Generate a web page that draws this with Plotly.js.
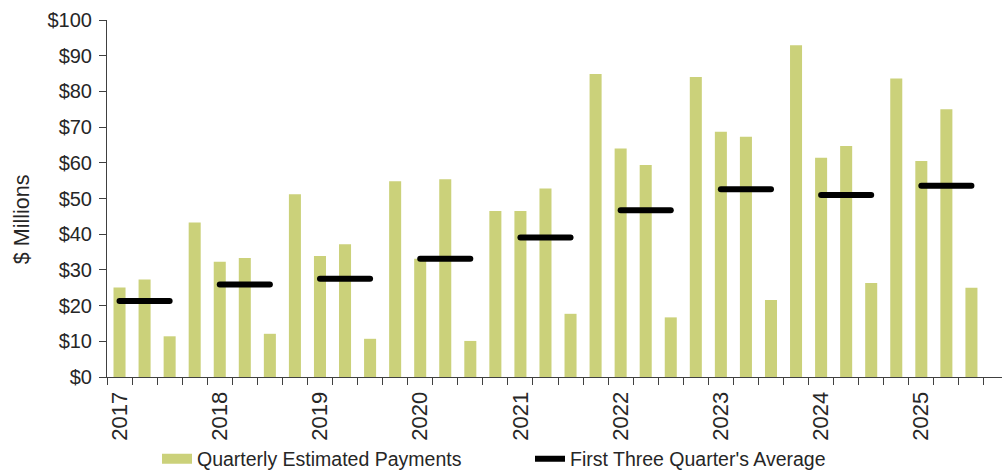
<!DOCTYPE html>
<html>
<head>
<meta charset="utf-8">
<script src="https://cdn.plot.ly/plotly-3.0.1.min.js"></script>
<style>
  html, body { margin: 0; padding: 0; background: #ffffff; }
  #chart { width: 1002px; height: 472px; }
  .scatterlayer .js-line { stroke-linecap: round; }
</style>
</head>
<body>
<div id="chart"></div>
<script>
// Quarter categories (first quarter of each year carries the year label)
const quarters = [
  '2017 Q1','2017 Q2','2017 Q3','2017 Q4',
  '2018 Q1','2018 Q2','2018 Q3','2018 Q4',
  '2019 Q1','2019 Q2','2019 Q3','2019 Q4',
  '2020 Q1','2020 Q2','2020 Q3','2020 Q4',
  '2021 Q1','2021 Q2','2021 Q3','2021 Q4',
  '2022 Q1','2022 Q2','2022 Q3','2022 Q4',
  '2023 Q1','2023 Q2','2023 Q3','2023 Q4',
  '2024 Q1','2024 Q2','2024 Q3','2024 Q4',
  '2025 Q1','2025 Q2','2025 Q3','2025 Q4'
];

// Quarterly estimated payments, $ millions
const payments = [
  25.1, 27.3, 11.4, 43.3,
  32.3, 33.3, 12.1, 51.2,
  33.9, 37.2, 10.7, 54.8,
  33.1, 55.4, 10.1, 46.5,
  46.5, 52.8, 17.7, 84.9,
  64.0, 59.4, 16.7, 84.0,
  68.7, 67.3, 21.6, 92.9,
  61.4, 64.7, 26.3, 83.6,
  60.5, 75.0, 25.0, null
];

// Year tick labels
const years = ['2017','2018','2019','2020','2021','2022','2023','2024','2025'];

// First three quarters' average, $ millions (one per year)
const firstThreeAvg = [21.3, 25.9, 27.5, 33.1, 39.1, 46.7, 52.6, 51.0, 53.6];

// ---- build traces from the data ----
const xIdx = quarters.map((q, i) => i);

const yearStartIdx = years.map(y => quarters.indexOf(y + ' Q1'));
const yearQ3Idx = years.map(y => quarters.indexOf(y + ' Q3'));

const avgX = [];
const avgY = [];
years.forEach((y, i) => {
  avgX.push(yearStartIdx[i], yearQ3Idx[i], null);
  avgY.push(firstThreeAvg[i], firstThreeAvg[i], null);
});

const barColor = '#CBD17A';
const textColor = '#262626';
const axisColor = '#404040';
const fontFamily = 'Arial, "Liberation Sans", sans-serif';

const traces = [
  {
    type: 'bar',
    x: xIdx,
    y: payments,
    width: 0.48,
    marker: { color: barColor },
    showlegend: false,
    hoverinfo: 'y'
  },
  {
    type: 'scatter',
    mode: 'lines',
    x: avgX,
    y: avgY,
    line: { color: '#000000', width: 6 },
    connectgaps: false,
    showlegend: false
  },
  // legend entries
  {
    type: 'scatter',
    mode: 'lines',
    x: [null],
    y: [null],
    name: 'Quarterly Estimated Payments',
    line: { color: barColor, width: 10 },
    showlegend: true
  },
  {
    type: 'scatter',
    mode: 'lines',
    x: [null],
    y: [null],
    name: "First Three Quarter's Average",
    line: { color: '#000000', width: 6 },
    showlegend: true
  }
];

const layout = {
  width: 1002,
  height: 472,
  margin: { l: 107, r: 0, t: 20, b: 95, pad: 0, autoexpand: false },
  paper_bgcolor: '#ffffff',
  plot_bgcolor: '#ffffff',
  font: { family: fontFamily, color: textColor },
  showlegend: true,
  legend: {
    orientation: 'h',
    xref: 'container',
    yref: 'container',
    x: 157 / 1002,
    xanchor: 'left',
    y: 1 - 459 / 472,
    yanchor: 'middle',
    font: { size: 19.5, color: textColor, family: fontFamily },
    bgcolor: 'rgba(0,0,0,0)',
    entrywidth: 328,
    entrywidthmode: 'pixels',
    itemwidth: 30,
    tracegroupgap: 0
  },
  xaxis: {
    type: 'linear',
    range: [-0.5, 35.22],
    tickmode: 'array',
    tickvals: yearStartIdx,
    ticktext: years,
    tickangle: -90,
    ticks: 'outside',
    ticklen: 5,
    tickcolor: 'rgba(0,0,0,0)',
    ticklabelstandoff: 0,
    tickfont: { size: 22, color: textColor },
    minor: {
      tickmode: 'linear',
      tick0: -0.5,
      dtick: 1,
      ticks: 'outside',
      ticklen: 7,
      tickwidth: 1,
      tickcolor: axisColor,
      showgrid: false
    },
    showline: true,
    linecolor: axisColor,
    linewidth: 1,
    showgrid: false,
    zeroline: false,
    automargin: false,
    fixedrange: true
  },
  yaxis: {
    range: [0, 100],
    tickmode: 'linear',
    tick0: 0,
    dtick: 10,
    tickprefix: '$',
    ticks: 'outside',
    ticklen: 7,
    tickwidth: 1,
    tickcolor: axisColor,
    ticklabelstandoff: 3,
    tickfont: { size: 20, color: textColor },
    showline: true,
    linecolor: axisColor,
    linewidth: 1,
    showgrid: false,
    zeroline: false,
    automargin: false,
    title: {
      text: '$ Millions&nbsp;&nbsp;&nbsp;&nbsp;&nbsp;&nbsp;&nbsp;',
      font: { size: 21.5, color: textColor },
      standoff: 11
    },
    fixedrange: true
  },
  bargap: 0.5
};

Plotly.newPlot('chart', traces, layout, { displayModeBar: false, staticPlot: true });
</script>
</body>
</html>
